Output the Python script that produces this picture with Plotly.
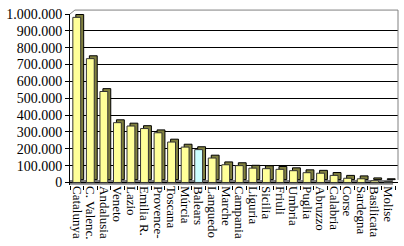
import plotly.graph_objects as go

regions = ["Catalunya", "C. Valenc.", "Andalusia", "Veneto", "Lazio", "Emilia R.",
           "Provence-", "Toscana", "Múrcia", "Balears", "Languedo", "Marche",
           "Campania", "Liguria", "Sicilia", "Friuli", "Umbria", "Puglia",
           "Abruzzo", "Calabria", "Corse", "Sardegna", "Basilicata", "Molise"]
values = [980000, 735000, 540000, 355000, 335000, 320000,
          295000, 240000, 210000, 195000, 145000, 105000,
          100000, 85000, 82000, 78000, 70000, 58000,
          55000, 42000, 25000, 22000, 10000, 5000]
highlight = "Balears"
tick_vals = [0, 100000, 200000, 300000, 400000, 500000, 600000, 700000, 800000, 900000, 1000000]

front_colors = ["#CCFFFF" if r == highlight else "#FFFF99" for r in regions]

bar_w = 0.58
dx = 0.22
depth = 17000

fig = go.Figure()
# depth/side face
fig.add_trace(go.Bar(
    x=regions, y=values, base=[depth] * len(values),
    width=bar_w, offset=-bar_w / 2 + dx,
    marker=dict(color="#80803F", line=dict(color="black", width=1)),
    hoverinfo="skip", showlegend=False))
# front face
fig.add_trace(go.Bar(
    x=regions, y=values,
    width=bar_w, offset=-bar_w / 2,
    marker=dict(color=front_colors, line=dict(color="#333333", width=1)),
    showlegend=False))

fig.update_layout(
    width=404, height=246,
    margin=dict(l=64, r=6, t=14, b=60),
    paper_bgcolor="white", plot_bgcolor="white",
    barmode="overlay",
    separators=",.",
    font=dict(family="Liberation Serif", size=14, color="black"),
    xaxis=dict(
        type="category", range=[-0.5, 23.72],
        tickmode="array", tickvals=regions, ticktext=regions,
        tickangle=90, ticks="outside", tickson="boundaries", ticklen=4,
        tickcolor="black", showline=False, showgrid=False,
        tickfont=dict(family="Liberation Serif", size=13, color="black")),
    yaxis=dict(
        range=[-15000, 1000000], tickvals=tick_vals, tickformat=",d",
        ticks="outside", ticklen=4, tickcolor="black",
        showline=True, linecolor="black", linewidth=1,
        showgrid=True, gridcolor="black", gridwidth=1, zeroline=False,
        tickfont=dict(family="Liberation Serif", size=14, color="black")),
    shapes=[
        # floor
        dict(type="rect", xref="paper", yref="y", x0=0, x1=0.985,
             y0=-13000, y1=15000, fillcolor="#808080", line=dict(width=0),
             layer="between"),
        # back wall top edge
        dict(type="line", xref="paper", yref="paper", x0=0.015, x1=1.0,
             y0=1.023, y1=1.023, line=dict(color="#808080", width=1)),
        # right wall edge
        dict(type="line", xref="paper", yref="paper", x0=1.0, x1=1.0,
             y0=0.03, y1=1.023, line=dict(color="#808080", width=1)),
        # corner diagonal
        dict(type="line", xref="paper", yref="paper", x0=0.0, x1=0.015,
             y0=1.0, y1=1.023, line=dict(color="#808080", width=1)),
    ],
)

fig.write_html("out.html")
